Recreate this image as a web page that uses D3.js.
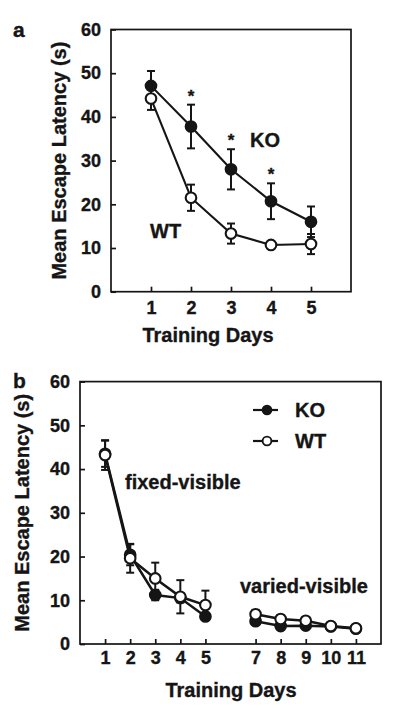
<!DOCTYPE html>
<html><head><meta charset="utf-8">
<script src="https://cdn.jsdelivr.net/npm/d3@7"></script>
<style>
body{margin:0;background:#fff;}
svg{display:block;}
text{font-family:"Liberation Sans",Arial,Helvetica,sans-serif;font-weight:bold;fill:#151515;stroke:#151515;stroke-width:0.35px;}
</style></head>
<body>
<svg id="chart" width="400" height="712"></svg>
<script>
// Panel a data
const daysA = [1, 2, 3, 4, 5];
const koA = [47.1, 37.8, 28.0, 20.7, 16.0];
const koAErr = [3.4, 5.0, 4.6, 4.1, 3.5];
const wtA = [44.2, 21.5, 13.3, 10.7, 10.9];
const wtAErr = [2.6, 3.0, 2.3, 0.8, 2.3];
const sigDaysA = [2, 3, 4];
const yTicks = [0, 10, 20, 30, 40, 50, 60];

// Panel b data
const daysB = [1, 2, 3, 4, 5, 7, 8, 9, 10, 11];
const koB = [43.5, 20.4, 11.2, 10.5, 6.3, 5.2, 4.1, 4.2, 4.0, 3.5];
const koBErr = [3.0, 2.4, 1.2, 1.0, 0.8, 0.7, 0.6, 0.6, 0.5, 0.5];
const wtB = [43.2, 19.6, 15.0, 10.8, 8.9, 6.8, 5.7, 5.3, 4.1, 3.6];
const wtBErr = [3.4, 3.3, 3.6, 3.8, 3.3, 1.0, 0.9, 0.8, 0.6, 0.6];
const seriesNames = ["KO", "WT"];

const svg = d3.select("#chart");
const ink = "#151515";

function panel(cfg) {
  const g = svg.append("g");
  const x = d3.scaleLinear().domain(cfg.xDomain).range([cfg.left, cfg.right]);
  const y = d3.scaleLinear().domain([0, 60]).range([cfg.bottom, cfg.top]);

  // frame
  g.append("rect").attr("x", cfg.left).attr("y", cfg.top)
    .attr("width", cfg.right - cfg.left).attr("height", cfg.bottom - cfg.top)
    .attr("fill", "none").attr("stroke", ink).attr("stroke-width", 1.7);

  const ya = g.append("g").attr("transform", `translate(${cfg.left},0)`)
    .call(d3.axisLeft(y).tickValues(yTicks).tickSizeInner(-5).tickSizeOuter(0).tickPadding(cfg.yPad));
  const xa = g.append("g").attr("transform", `translate(0,${cfg.bottom})`)
    .call(d3.axisBottom(x).tickValues(cfg.days).tickFormat(d3.format("d")).tickSizeInner(-5).tickSizeOuter(0).tickPadding(cfg.xPad));
  [ya, xa].forEach(a => {
    a.select(".domain").remove();
    a.selectAll(".tick line").attr("stroke", ink).attr("stroke-width", 1.7);
    a.selectAll(".tick text").attr("font-size", 18).attr("font-family", null).attr("fill", null);
  });

  // axis titles
  g.append("text").attr("transform", `translate(${cfg.yTitleX},${(cfg.top + cfg.bottom) / 2}) rotate(-90)`)
    .attr("text-anchor", "middle").attr("font-size", 20).text("Mean Escape Latency (s)");
  g.append("text").attr("x", cfg.xTitleX).attr("y", cfg.xTitleY)
    .attr("text-anchor", "middle").attr("font-size", 20).text("Training Days");
  g.append("text").attr("x", 13).attr("y", cfg.labelY).attr("font-size", 21).text(cfg.label);

  const line = d3.line().x(d => x(d[0])).y(d => y(d[1]));
  const series = [
    {vals: cfg.ko, err: cfg.koErr, fill: ink},
    {vals: cfg.wt, err: cfg.wtErr, fill: "#fff"}
  ];
  series.forEach(s => {
    cfg.segments.forEach(seg => {
      const pts = cfg.days.map((d, i) => [d, s.vals[i]]).filter(p => p[0] >= seg[0] && p[0] <= seg[1]);
      g.append("path").attr("d", line(pts)).attr("fill", "none")
        .attr("stroke", ink).attr("stroke-width", cfg.lw);
    });
  });
  series.forEach(s => {
    cfg.days.forEach((d, i) => {
      const cx = x(d), y1 = y(s.vals[i] + s.err[i]), y0 = y(s.vals[i] - s.err[i]);
      g.append("line").attr("x1", cx).attr("x2", cx).attr("y1", y1).attr("y2", y0)
        .attr("stroke", ink).attr("stroke-width", 2);
      [y1, y0].forEach(yy => g.append("line").attr("x1", cx - 4).attr("x2", cx + 4)
        .attr("y1", yy).attr("y2", yy).attr("stroke", ink).attr("stroke-width", 2));
    });
  });
  series.forEach(s => {
    cfg.days.forEach((d, i) => {
      g.append("circle").attr("cx", x(d)).attr("cy", y(s.vals[i])).attr("r", 5.3)
        .attr("fill", s.fill).attr("stroke", ink).attr("stroke-width", 2.1);
    });
  });
  return {g, x, y};
}

// Panel a
const A = panel({
  left: 111, right: 351, top: 29.5, bottom: 291.7, xDomain: [0, 6],
  days: daysA, ko: koA, koErr: koAErr, wt: wtA, wtErr: wtAErr,
  segments: [[1, 5]], lw: 2.1,
  yPad: 10, xPad: 10, yTitleX: 66, xTitleX: 208, xTitleY: 342, label: "a", labelY: 37
});
sigDaysA.forEach(d => {
  const i = daysA.indexOf(d);
  A.g.append("text").attr("x", A.x(d)).attr("y", A.y(koA[i] + koAErr[i]) - 3)
    .attr("text-anchor", "middle").attr("font-size", 17).text("*");
});
A.g.append("text").attr("x", 250).attr("y", 147).attr("font-size", 20).text(seriesNames[0]);
A.g.append("text").attr("x", 150).attr("y", 238).attr("font-size", 20).text(seriesNames[1]);

// Panel b
const B = panel({
  left: 80, right: 381, top: 381.6, bottom: 644, xDomain: [0, 12],
  days: daysB, ko: koB, koErr: koBErr, wt: wtB, wtErr: wtBErr,
  segments: [[1, 5], [7, 11]], lw: 2.5,
  yPad: 10, xPad: 7, yTitleX: 29, xTitleX: 231, xTitleY: 697, label: "b", labelY: 388
});
B.g.append("text").attr("x", 125).attr("y", 489).attr("font-size", 20).text("fixed-visible");
B.g.append("text").attr("x", 240).attr("y", 593).attr("font-size", 20).text("varied-visible");

// legend
seriesNames.forEach((name, i) => {
  const ly = 410 + i * 31;
  const lg = B.g.append("g");
  lg.append("line").attr("x1", 253).attr("x2", 278).attr("y1", ly).attr("y2", ly)
    .attr("stroke", ink).attr("stroke-width", 2.2);
  lg.append("circle").attr("cx", 267).attr("cy", ly).attr("r", 4.4)
    .attr("fill", i === 0 ? ink : "#fff").attr("stroke", ink).attr("stroke-width", 1.9);
  lg.append("text").attr("x", 295).attr("y", ly + 7).attr("font-size", 20).text(name);
});
</script>
</body></html>
